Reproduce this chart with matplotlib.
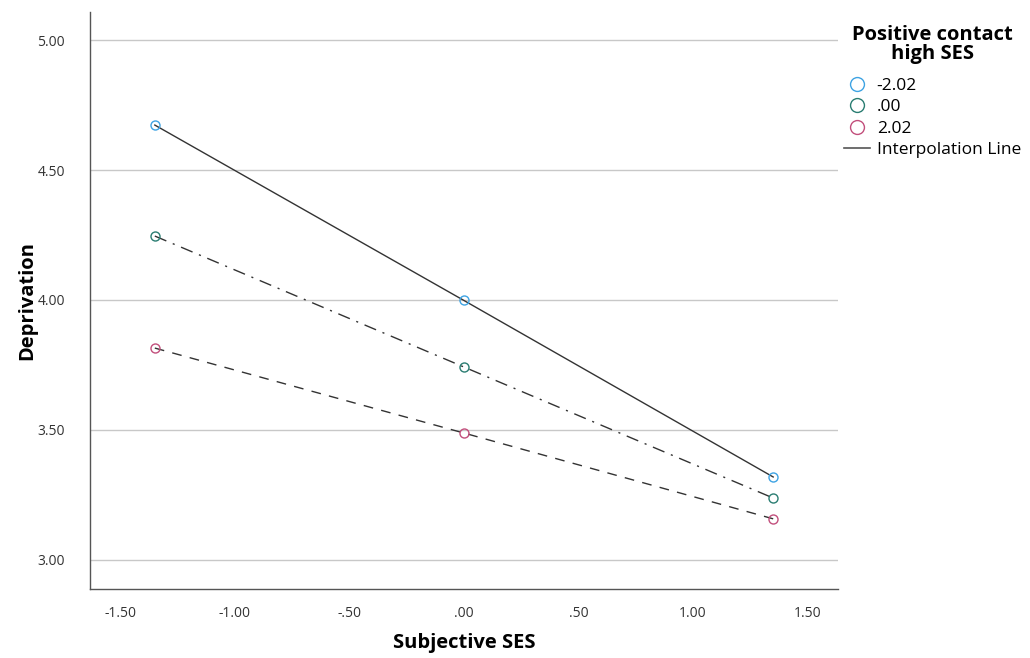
import matplotlib
matplotlib.use('Agg')
import matplotlib.pyplot as plt
from matplotlib.lines import Line2D

# Subjective SES levels (x) and predicted Deprivation per moderator level
ses = [-1.35, 0.00, 1.35]
groups = ['-2.02', '.00', '2.02']
dep_low = [4.673, 3.998, 3.319]
dep_mid = [4.246, 3.742, 3.238]
dep_high = [3.815, 3.488, 3.158]

colors = ['#3ea3e3', '#2a7d72', '#c24f7c']
styles = ['-', (0, (9, 5, 1.5, 5)), (0, (7, 6))]

plt.rcParams['font.family'] = ['Open Sans', 'DejaVu Sans']

fig = plt.figure(figsize=(10.3, 6.58), dpi=100)
ax = fig.add_axes([90 / 1030, 1 - 589 / 658, 748 / 1030, 577 / 658])

for vals, c, ls in zip([dep_low, dep_mid, dep_high], colors, styles):
	ax.plot(ses, vals, color='#333333', linestyle=ls, linewidth=1.0, zorder=2)
	ax.plot(ses, vals, linestyle='none', marker='o', markersize=6.5,
		markerfacecolor='none', markeredgecolor=c, markeredgewidth=1.0, zorder=3)

ax.set_xlim(-1.633, 1.633)
ax.set_ylim(2.888, 5.108)
ax.set_yticks([3.0, 3.5, 4.0, 4.5, 5.0])
ax.set_yticklabels(['3.00', '3.50', '4.00', '4.50', '5.00'])
ax.set_xticks([-1.5, -1.0, -0.5, 0.0, 0.5, 1.0, 1.5])
ax.set_xticklabels(['-1.50', '-1.00', '-.50', '.00', '.50', '1.00', '1.50'])
ax.tick_params(length=0, labelsize=10, colors='#333333', pad=12)
ax.tick_params(axis='y', pad=18)
ax.yaxis.grid(True, color='#c8c8c8', linewidth=1.0)
ax.set_axisbelow(True)
for s in ['top', 'right']:
	ax.spines[s].set_visible(False)
for s in ['left', 'bottom']:
	ax.spines[s].set_color('#555555')
	ax.spines[s].set_linewidth(1.0)

ax.set_xlabel('Subjective SES', fontsize=14.5, fontweight='bold')
ax.set_ylabel('Deprivation', fontsize=14.5, fontweight='bold')
ax.xaxis.set_label_coords(0.5, -0.076)
ax.yaxis.set_label_coords(-0.07, 0.5)

handles = [Line2D([], [], linestyle='none', marker='o', markersize=10,
	markerfacecolor='none', markeredgecolor=c, markeredgewidth=1.0) for c in colors]
handles.append(Line2D([], [], color='#555555', linewidth=1.2))
labels = groups + ['Interpolation Line']
leg = fig.legend(handles, labels, title='Positive contact\nhigh SES',
	loc='upper left', bbox_to_anchor=(835 / 1030, 1 - 16 / 658), frameon=False,
	fontsize=12.5, title_fontproperties={'weight': 'bold', 'size': 14.5},
	handlelength=1.5, handletextpad=0.4, labelspacing=0.3, borderpad=0)
leg._legend_box.align = 'center'
leg._legend_box.sep = 10
leg.get_title().set_multialignment('center')
leg.get_title().set_linespacing(0.95)

plt.savefig('out.png', dpi=100)
plt.close()
